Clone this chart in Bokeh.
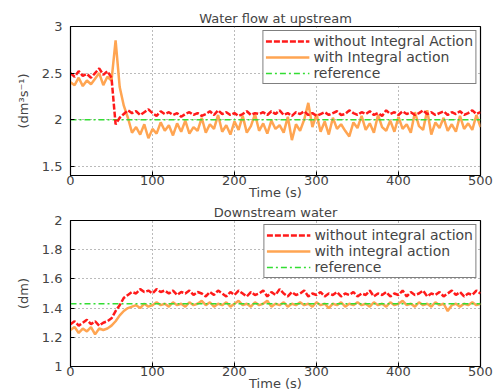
from bokeh.plotting import figure
from bokeh.layouts import column
from bokeh.models import Legend, LegendItem, Range1d, FixedTicker
from bokeh.embed import file_html
from bokeh.resources import INLINE

t = list(range(0, 505, 5))

up_without = [2.50, 2.46, 2.52, 2.47, 2.49, 2.45, 2.50, 2.55, 2.48, 2.52,
              2.45, 1.95, 2.02, 2.06, 2.10, 2.07, 2.09, 2.05, 2.08, 2.11,
              2.07, 2.04, 2.09, 2.06, 2.08, 2.05, 2.07, 2.03, 2.06, 2.08,
              2.05, 2.07, 2.04, 2.06, 2.09, 2.05, 2.10, 2.06, 2.08, 2.05,
              2.07, 2.04, 2.06, 2.09, 2.05, 2.07, 2.06, 2.08, 2.05, 2.09,
              2.06, 2.10, 2.05, 2.07, 2.04, 2.08, 2.06, 2.09, 2.05, 2.07,
              2.04, 2.06, 2.08, 2.05, 2.07, 2.09, 2.05, 2.06, 2.10, 2.07,
              2.05, 2.08, 2.06, 2.09, 2.05, 2.07, 2.04, 2.10, 2.06, 2.08,
              2.05, 2.09, 2.06, 2.08, 2.05, 2.07, 2.10, 2.06, 2.08, 2.05,
              2.07, 2.09, 2.05, 2.08, 2.06, 2.09, 2.05, 2.07, 2.10, 2.06,
              2.08]
up_with = [2.40, 2.37, 2.45, 2.36, 2.42, 2.38, 2.44, 2.50, 2.37, 2.46,
           2.42, 2.85, 2.35, 2.15, 2.02, 1.86, 1.92, 1.84, 1.95, 1.80,
           1.90, 1.85, 1.97, 1.88, 1.94, 1.83, 1.96, 1.87, 1.99, 1.85,
           1.92, 1.88, 2.02, 1.86, 1.95, 1.90, 2.05, 1.87, 1.94, 1.84,
           1.98, 1.89, 2.04, 1.86, 1.93, 2.06, 1.88, 1.96, 1.85, 1.99,
           1.90, 1.94, 1.86, 2.03, 1.78, 1.95, 1.88, 2.00, 2.18, 1.92,
           2.06, 1.87, 1.98, 1.84, 2.02, 1.90, 1.95, 1.88, 1.82, 1.97,
           1.91, 2.04, 1.89, 1.96, 1.86, 2.05, 1.92, 1.88, 1.99, 1.87,
           2.03, 1.90, 1.95, 1.86, 2.08, 1.93, 1.89, 2.10, 1.84, 1.97,
           1.91, 2.02, 1.88, 1.95, 1.87, 2.04, 1.90, 1.96, 1.89, 2.05,
           1.92]
up_ref_t = [0, 500]
up_ref = [2.0, 2.0]

down_without = [1.29, 1.31, 1.28, 1.30, 1.32, 1.29, 1.31, 1.28, 1.30,
                1.31, 1.33, 1.38, 1.42, 1.47, 1.49, 1.51,
                1.50, 1.53, 1.51, 1.52, 1.50, 1.53, 1.51, 1.52, 1.50, 1.52,
                1.49, 1.51, 1.50, 1.52, 1.49, 1.51, 1.50, 1.48, 1.51, 1.49,
                1.52, 1.50, 1.48, 1.51, 1.49, 1.52, 1.50, 1.48, 1.51, 1.49,
                1.50, 1.52, 1.48, 1.51, 1.49, 1.53, 1.50, 1.48, 1.51, 1.49,
                1.50, 1.52, 1.48, 1.50, 1.49, 1.51, 1.48, 1.50, 1.49, 1.51,
                1.48, 1.50, 1.49, 1.51, 1.48, 1.50, 1.49, 1.52, 1.48, 1.50,
                1.49, 1.51, 1.48, 1.50, 1.49, 1.52, 1.48, 1.51, 1.49, 1.50,
                1.52, 1.48, 1.50, 1.49, 1.51, 1.48, 1.50, 1.52, 1.49, 1.51,
                1.48, 1.50, 1.49, 1.52, 1.50]
down_with = [1.25, 1.27, 1.23, 1.26, 1.24, 1.27, 1.22, 1.26, 1.25,
             1.26, 1.28, 1.31, 1.35, 1.38, 1.40, 1.41,
             1.42, 1.40, 1.43, 1.41, 1.42, 1.44, 1.42, 1.43, 1.41, 1.44,
             1.42, 1.43, 1.41, 1.44, 1.42, 1.43, 1.45, 1.42, 1.44, 1.41,
             1.43, 1.42, 1.44, 1.41, 1.43, 1.45, 1.42, 1.43, 1.41, 1.44,
             1.42, 1.43, 1.45, 1.41, 1.43, 1.42, 1.44, 1.41, 1.43, 1.42,
             1.44, 1.42, 1.43, 1.41, 1.44, 1.42, 1.43, 1.40, 1.43, 1.42,
             1.44, 1.41, 1.43, 1.42, 1.44, 1.42, 1.43, 1.41, 1.44, 1.42,
             1.43, 1.41, 1.44, 1.42, 1.43, 1.45, 1.42, 1.43, 1.41, 1.44,
             1.42, 1.43, 1.41, 1.44, 1.42, 1.43, 1.38, 1.42, 1.43, 1.41,
             1.43, 1.42, 1.44, 1.42, 1.43]
down_ref_t = [0, 500]
down_ref = [1.43, 1.43]

x_ticks = [0, 100, 200, 300, 400, 500]
up_yticks = [1.5, 2, 2.5, 3]
down_yticks = [1, 1.2, 1.4, 1.6, 1.8, 2]

up_labels = ["without Integral Action", "with Integral action", "reference"]
down_labels = ["without integral action", "with integral action", "reference"]

RED = "#ff1a1a"
ORANGE = "#ffa552"
GREEN = "#33dd33"
FONT = "DejaVu Sans"


def make(title, yr, yticks, ylabel, tw, yw, rt, rv, labels, fh, top):
    p = figure(frame_width=410, frame_height=fh,
               output_backend="svg", toolbar_location=None,
               x_range=Range1d(0, 500), y_range=Range1d(*yr),
               min_border_left=70, min_border_right=16, min_border_top=top,
               min_border_bottom=0)
    p.title.text = title
    p.title.align = "center"
    p.title.text_font = FONT
    p.title.text_font_size = "13px"
    p.title.text_font_style = "normal"
    p.title.standoff = 1
    p.title.offset = 0
    p.outline_line_color = "black"
    p.outline_line_width = 1.2
    for ax in (p.xaxis, p.yaxis):
        ax.major_label_text_font = FONT
        ax.major_label_text_font_size = "13px"
        ax.major_tick_in = 4
        ax.major_tick_out = 0
        ax.minor_tick_in = 0
        ax.minor_tick_out = 0
        ax.axis_line_color = "black"
        ax.axis_label_text_font = FONT
        ax.axis_label_text_font_size = "13px"
        ax.axis_label_text_font_style = "normal"
    p.xaxis.ticker = FixedTicker(ticks=x_ticks)
    p.yaxis.ticker = FixedTicker(ticks=yticks)
    p.xaxis.axis_label = "Time (s)"
    p.xaxis.major_label_standoff = 0
    p.xaxis.axis_label_standoff = -3
    p.yaxis.axis_label = ylabel
    p.yaxis.axis_label_standoff = 8
    p.yaxis.major_label_standoff = 8
    p.grid.grid_line_color = "#555555"
    p.grid.grid_line_dash = "1 3"
    p.grid.grid_line_alpha = 0.8
    p.grid.grid_line_width = 1

    r1 = p.line(t, tw, line_color=RED, line_width=2.5, line_dash="6 2")
    r2 = p.line(t, yw, line_color=ORANGE, line_width=2.5)
    r3 = p.line(rt, rv, line_color=GREEN, line_width=1.5, line_dash="6 3 2 3")
    p.renderers = [r2, r3, r1]

    leg = Legend(items=[LegendItem(label=labels[0], renderers=[r1]),
                        LegendItem(label=labels[1], renderers=[r2]),
                        LegendItem(label=labels[2], renderers=[r3])],
                 location="top_right")
    leg.label_text_font = FONT
    leg.label_text_font_size = "14px"
    leg.label_height = 10
    leg.glyph_height = 10
    leg.glyph_width = 44
    leg.spacing = 0
    leg.padding = 2
    leg.margin = 4
    leg.label_standoff = 4
    leg.border_line_color = "black"
    leg.border_line_width = 1.2
    leg.background_fill_alpha = 1
    p.add_layout(leg)
    return p


p1 = make("Water flow at upstream", (1.4, 3), up_yticks, "(dm³s⁻¹)",
          up_without, up_with, up_ref_t, up_ref, up_labels, 149, 26)
p2 = make("Downstream water", (1, 2), down_yticks, "(dm)",
          down_without, down_with, down_ref_t, down_ref, down_labels, 146, 0)

layout = column(p1, p2, spacing=0)
open("out.html", "w").write(file_html(layout, INLINE))
